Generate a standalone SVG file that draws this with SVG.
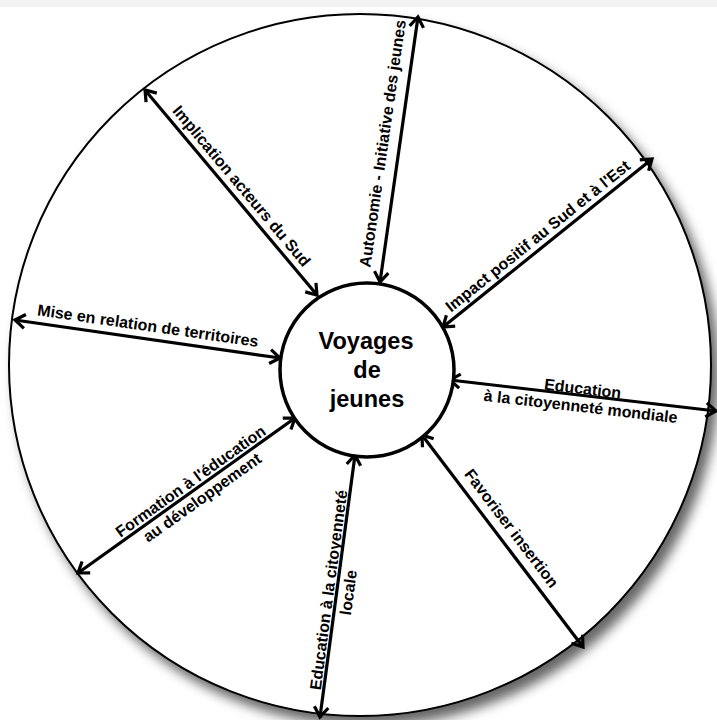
<svg xmlns="http://www.w3.org/2000/svg" width="717" height="720" viewBox="0 0 717 720">
<style>
.lbl{font-family:"Liberation Sans",Arial,sans-serif;font-weight:bold;font-size:16px;fill:#000;text-anchor:middle}
.title{font-family:"Liberation Sans",Arial,sans-serif;font-weight:bold;font-size:23.5px;fill:#000;text-anchor:middle}
.conn line{stroke:#000;stroke-width:3.2;marker-start:url(#ah);marker-end:url(#ah)}
</style>
<defs>
<marker id="ah" markerUnits="userSpaceOnUse" markerWidth="20" markerHeight="20" viewBox="-12 -10 14 20" refX="0" refY="0" orient="auto-start-reverse">
<path d="M-10,-7 L0,0 L-10,7" fill="none" stroke="#000" stroke-width="3.2" stroke-linejoin="miter"/>
</marker>
<filter id="sh" x="-10%" y="-10%" width="125%" height="125%">
<feDropShadow dx="7" dy="9" stdDeviation="6" flood-color="#000" flood-opacity="0.6"/>
</filter>
</defs>
<rect width="717" height="720" fill="#fff"/>
<rect width="717" height="7" fill="#f3f3f3"/>
<g id="outer">
<circle cx="360" cy="365" r="351" fill="#fff" stroke="#000" stroke-width="2" filter="url(#sh)"/>
</g>
<g class="conn" id="connectors">
<line x1="145" y1="90" x2="317" y2="295"/>
<line x1="418" y1="17" x2="380" y2="282"/>
<line x1="652" y1="159" x2="443" y2="327"/>
<line x1="15" y1="320" x2="280" y2="358"/>
<line x1="450" y1="380" x2="716" y2="411"/>
<line x1="295" y1="418" x2="78" y2="573"/>
<line x1="355" y1="455" x2="320" y2="717"/>
<line x1="422" y1="435" x2="583" y2="647"/>
</g>
<g id="center">
<circle cx="367" cy="370" r="87" fill="#fff" stroke="#000" stroke-width="3.5"/>
<text class="title" x="366" y="349">Voyages</text>
<text class="title" x="367" y="378">de</text>
<text class="title" x="367" y="407">jeunes</text>
</g>
<g id="l1"><text class="lbl" transform="translate(232,194) rotate(50)" y="-7">Implication acteurs du Sud</text></g>
<g id="l2"><text class="lbl" transform="translate(399,146) rotate(-81.8)" y="-11">Autonomie - Initiative des jeunes</text></g>
<g id="l3"><text class="lbl" transform="translate(545,245) rotate(-38.8)" y="-6">Impact positif au Sud et à l'Est</text></g>
<g id="l4"><text class="lbl" transform="translate(146,339) rotate(8.2)" y="-8">Mise en relation de territoires</text></g>
<g id="l5"><text class="lbl" transform="translate(582,395) rotate(6.6)"><tspan x="0" y="-1">Education</tspan><tspan x="0" y="17">à la citoyenneté mondiale</tspan></text></g>
<g id="l6"><text class="lbl" transform="translate(196,489) rotate(-35.5)"><tspan x="0" y="-4">Formation à l'éducation</tspan><tspan x="0" y="16">au développement</tspan></text></g>
<g id="l7"><text class="lbl" transform="translate(337,591) rotate(-82.4)"><tspan x="0" y="-3">Education à la citoyenneté</tspan><tspan x="0" y="17">locale</tspan></text></g>
<g id="l8"><text class="lbl" transform="translate(500,537) rotate(52.8)" y="-9">Favoriser insertion</text></g>
</svg>
